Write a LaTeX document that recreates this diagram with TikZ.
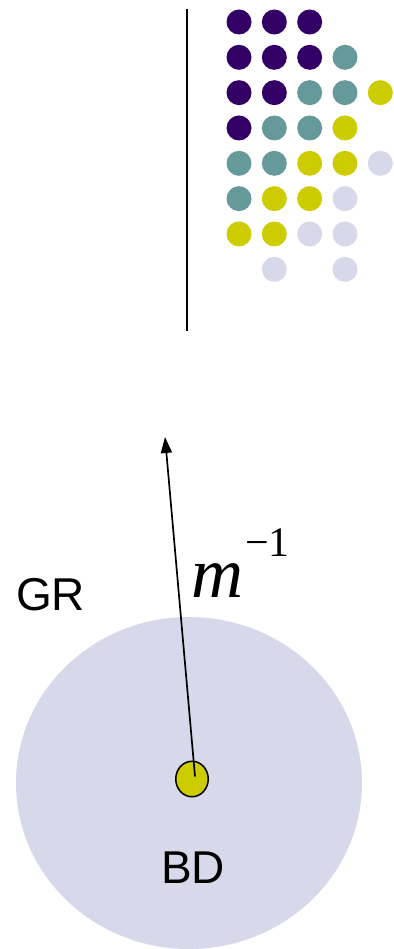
\documentclass[tikz,border=0pt]{standalone}
\usepackage{fontspec}
\setmainfont{Liberation Serif}
\newfontfamily\arialfont{Liberation Sans}
\usetikzlibrary{arrows.meta,shapes.geometric}
\definecolor{dpurple}{RGB}{51,0,102}
\definecolor{dteal}{RGB}{102,153,153}
\definecolor{dyellow}{RGB}{204,204,0}
\definecolor{dlav}{RGB}{216,216,235}
\def\cN{N}
\begin{document}
\begin{tikzpicture}[x=1pt,y=-1pt,
  dotP/.style={circle,fill=dpurple,minimum size=25pt,inner sep=0pt},
  dotT/.style={circle,fill=dteal,minimum size=25pt,inner sep=0pt},
  dotY/.style={circle,fill=dyellow,minimum size=25pt,inner sep=0pt},
  dotL/.style={circle,fill=dlav,minimum size=25pt,inner sep=0pt},
  sanslabel/.style={font=\arialfont\fontsize{46}{46}\selectfont,inner sep=0pt}]
\useasboundingbox (0,0) rectangle (393,949);
% vertical line
\coordinate (vtop) at (186.7,9);
\coordinate (vbot) at (186.7,330.5);
\draw[line width=1.8pt] (vtop) -- (vbot);
% dot grid
\def\dx{35.33}
\foreach \row/\list in {0/{P,P,P,N,N},1/{P,P,P,T,N},2/{P,P,T,T,Y},3/{P,T,T,Y,N},4/{T,T,Y,Y,L},5/{T,Y,Y,L,N},6/{Y,Y,L,L,N},7/{N,L,N,L,N}}{
  \foreach \c [count=\col from 0] in \list {
    \ifx\c\cN\else
      \node[dot\c] (d\row-\col) at ({239+\col*\dx},{22+\row*\dx}) {};
    \fi
  }
}
% big disc
\fill[dlav] (189,783) ellipse [x radius=173, y radius=166];
% small yellow disc
\node[ellipse,draw=black,line width=1.5pt,fill=dyellow,minimum width=32.5pt,minimum height=35.5pt,inner sep=0pt] (bd) at (192,779) {};
% arrow
\coordinate (tip) at (165,437);
\draw[line width=1.7pt,-{Triangle[length=16pt,width=11pt]}] (195,776.5) -- (tip);
% labels
\node[sanslabel,anchor=base west] (gr) at (16,610) {GR};
\node[sanslabel,anchor=base west] (bdl) at (161,883.5) {BD};
\node[inner sep=0pt,anchor=base west] (mlab) at (191,597) {\fontsize{72}{72}\selectfont\itshape m\/\hspace{2pt}\raisebox{41pt}{\upshape\fontsize{42}{42}\selectfont −1}};
\end{tikzpicture}
\end{document}
